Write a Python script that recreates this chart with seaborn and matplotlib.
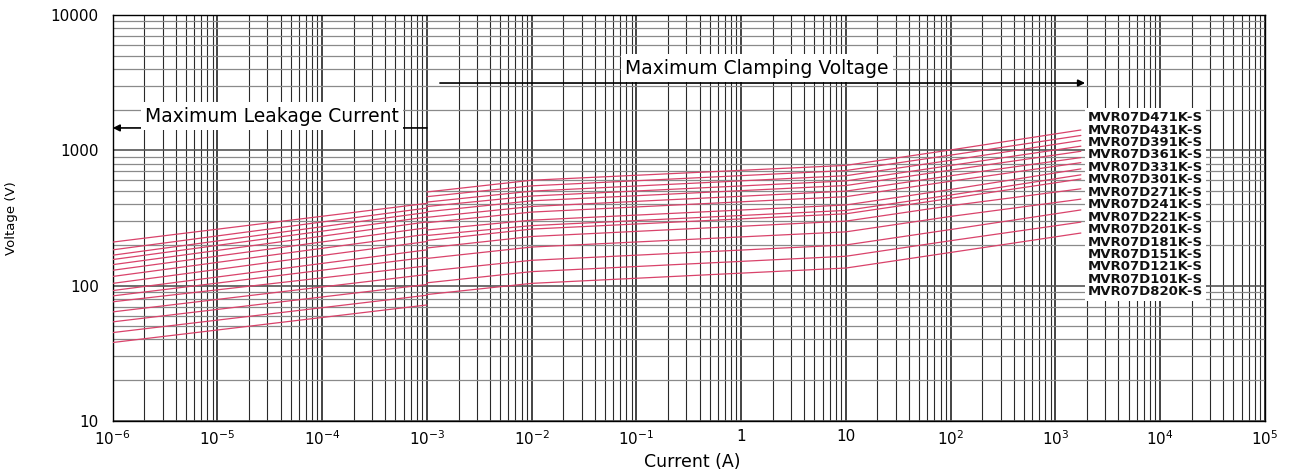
import numpy as np
import pandas as pd
import matplotlib
matplotlib.use("Agg")
import matplotlib.pyplot as plt
import seaborn as sns
from matplotlib.ticker import LogLocator, NullFormatter

# device names, bottom curve first
devices = ['MVR07D820K-S', 'MVR07D101K-S', 'MVR07D121K-S', 'MVR07D151K-S', 'MVR07D181K-S',
           'MVR07D201K-S', 'MVR07D221K-S', 'MVR07D241K-S', 'MVR07D271K-S', 'MVR07D301K-S',
           'MVR07D331K-S', 'MVR07D361K-S', 'MVR07D391K-S', 'MVR07D431K-S', 'MVR07D471K-S']

# maximum leakage current region (V at 1uA and at 1mA)
leak_current = [1e-6, 1e-3]
leak_1uA = [38, 45, 54, 64, 76, 84, 92, 104, 117, 130, 143, 156, 168, 184, 210]
leak_1mA = [72, 85, 102, 121, 140, 162, 184, 212, 240, 268, 296, 322, 348, 375, 406]

# maximum clamping voltage region
clamp_current = [1e-3, 1e-2, 10, 100, 1750]
clamp_1mA = [86, 105, 128, 159, 190, 216, 235, 258, 292, 320, 352, 385, 415, 455, 493]
clamp_10mA = [104, 127, 154, 193, 231, 262, 278, 305, 350, 385, 424, 460, 500, 547, 602]
clamp_10A = [135, 165, 200, 250, 300, 340, 360, 395, 455, 500, 550, 595, 650, 710, 775]
clamp_100A = [176, 215, 260, 325, 390, 442, 468, 514, 592, 650, 715, 774, 845, 923, 1008]
clamp_end = [245, 295, 363, 436, 520, 615, 660, 730, 812, 885, 985, 1075, 1185, 1290, 1416]

xticks = [1e-6, 1e-5, 1e-4, 1e-3, 1e-2, 1e-1, 1, 10, 1e2, 1e3, 1e4, 1e5]
xtick_labels = ['$10^{-6}$', '$10^{-5}$', '$10^{-4}$', '$10^{-3}$', '$10^{-2}$', '$10^{-1}$',
                '1', '10', '$10^{2}$', '$10^{3}$', '$10^{4}$', '$10^{5}$']
yticks = [10, 100, 1000, 10000]
ytick_labels = ['10', '100', '1000', '10000']

rows = []
for i, d in enumerate(devices):
    for c, v in zip(leak_current, [leak_1uA[i], leak_1mA[i]]):
        rows.append((d + ' leak', c, v))
    cv = [clamp_1mA[i], clamp_10mA[i], clamp_10A[i], clamp_100A[i], clamp_end[i]]
    for c, v in zip(clamp_current, cv):
        rows.append((d + ' clamp', c, v))
df = pd.DataFrame(rows, columns=['segment', 'current', 'voltage'])

sns.set_style('white')
plt.rcParams['font.family'] = ['DejaVu Sans']
plt.rcParams['text.color'] = 'black'
plt.rcParams['axes.labelcolor'] = 'black'
plt.rcParams['xtick.color'] = 'black'
plt.rcParams['ytick.color'] = 'black'

fig = plt.figure(figsize=(12.96, 4.74), dpi=100)
ax = fig.add_axes([0.087, 0.112, 0.889, 0.856])
ax.set_xscale('log')
ax.set_yscale('log')

sns.lineplot(data=df, x='current', y='voltage', units='segment', estimator=None,
             sort=False, color='#d9436b', lw=0.9, ax=ax, zorder=3)

ax.set_xlim(1e-6, 1e5)
ax.set_ylim(10, 10000)
ax.set_xticks(xticks, xtick_labels, fontsize=11)
ax.set_yticks(yticks, ytick_labels, fontsize=11)
ax.xaxis.set_minor_locator(LogLocator(base=10, subs=np.arange(2, 10), numticks=30))
ax.yaxis.set_minor_locator(LogLocator(base=10, subs=np.arange(2, 10), numticks=30))
ax.xaxis.set_minor_formatter(NullFormatter())
ax.yaxis.set_minor_formatter(NullFormatter())
ax.tick_params(which='both', length=0)
ax.tick_params(axis='x', pad=6)
ax.tick_params(axis='y', pad=10)

ax.xaxis.grid(True, which='major', color='#111111', lw=1.1)
ax.xaxis.grid(True, which='minor', color='#2a2a2a', lw=0.8)
ax.yaxis.grid(True, which='major', color='#555555', lw=1.2)
ax.yaxis.grid(True, which='minor', color='#8a8a8a', lw=0.9)
ax.set_axisbelow(True)
for s in ax.spines.values():
    s.set_color('black')
    s.set_linewidth(1)

ax.set_xlabel('Current (A)', fontsize=12.5)
ax.set_ylabel('Voltage (V)', fontsize=9.5)
ax.xaxis.set_label_coords(0.503, -0.078)
ax.yaxis.set_label_coords(-0.082, 0.5)

# region arrows
ax.annotate('', xy=(1e-6, 1466), xytext=(1e-3, 1466),
            arrowprops=dict(arrowstyle='-|>', color='black', lw=1.2, mutation_scale=10,
                            shrinkA=0, shrinkB=0), zorder=6)
ax.text(3.3e-5, 1795, 'Maximum Leakage Current', ha='center', va='center', fontsize=13.5,
        bbox=dict(fc='white', ec='none', pad=3), zorder=6)
ax.annotate('', xy=(1920, 3150), xytext=(1.33e-3, 3150),
            arrowprops=dict(arrowstyle='-|>', color='black', lw=1.2, mutation_scale=10,
                            shrinkA=0, shrinkB=0), zorder=6)
ax.text(1.42, 4064, 'Maximum Clamping Voltage', ha='center', va='center', fontsize=13.5,
        bbox=dict(fc='white', ec='none', pad=3), zorder=6)

# device name list
ax.text(2050, 1954, '\n'.join(reversed(devices)), ha='left', va='top', fontsize=9.5,
        fontweight='bold', linespacing=0.945, color='#111111',
        bbox=dict(fc='white', ec='none', pad=2), zorder=6)

fig.savefig('out.png', dpi=100)
